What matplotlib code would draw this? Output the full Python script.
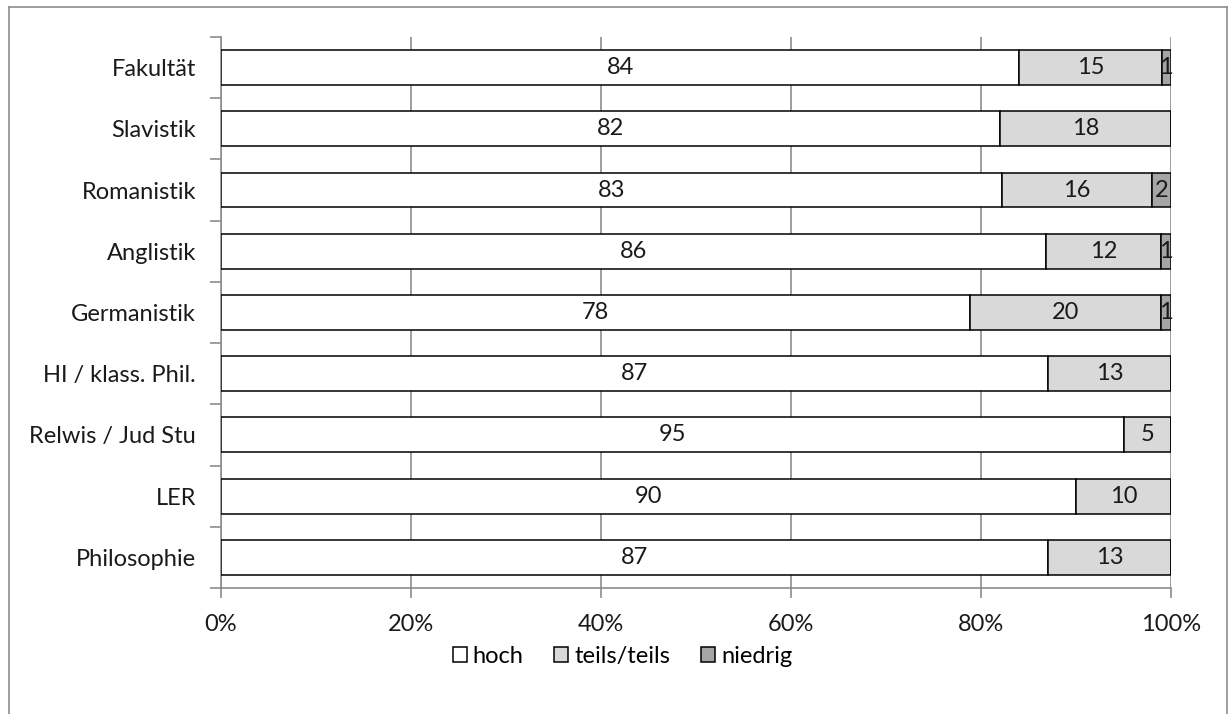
import numpy as np
import matplotlib.pyplot as plt
from matplotlib.lines import Line2D
from matplotlib.ticker import FuncFormatter, FixedLocator

plt.rcParams['font.family'] = ['Lato', 'DejaVu Sans']

fächer = ['Fakultät', 'Slavistik', 'Romanistik', 'Anglistik', 'Germanistik',
          'HI / klass. Phil.', 'Relwis / Jud Stu', 'LER', 'Philosophie']
hoch = [84, 82, 83, 86, 78, 87, 95, 90, 87]
teils = [15, 18, 16, 12, 20, 13, 5, 10, 13]
niedrig = [1, 0, 2, 1, 1, 0, 0, 0, 0]

serien = ['hoch', 'teils/teils', 'niedrig']
farben = ['#ffffff', '#d9d9d9', '#a5a5a5']

werte = np.array([hoch, teils, niedrig], dtype=float)
anteile = werte / werte.sum(axis=0)  # 100 % gestapelt

schrift = 17

fig = plt.figure(figsize=(12.3, 7.14), dpi=100)
ax = fig.add_axes([0.1797, 0.1765, 0.7724, 0.7717])

y = np.arange(len(fächer))
links = np.zeros(len(fächer))
for i, (name, farbe) in enumerate(zip(serien, farben)):
    balken = ax.barh(y, anteile[i], left=links, height=0.57, color=farbe,
                     edgecolor='black', linewidth=1.1, label=name, zorder=3)
    texte = [f'{int(v)}' if v > 0 else '' for v in werte[i]]
    ax.bar_label(balken, labels=texte, label_type='center', fontsize=schrift,
                 color='#1a1a1a')
    links += anteile[i]

ax.set_xlim(0, 1)
ax.set_ylim(len(fächer) - 0.5, -0.5)

ax.xaxis.set_major_locator(FixedLocator(np.linspace(0, 1, 6)))
ax.xaxis.set_major_formatter(FuncFormatter(lambda v, p: f'{v:.0%}'))
ax.set_yticks(y)
ax.set_yticklabels(fächer)
ax.yaxis.set_minor_locator(FixedLocator(np.arange(-0.5, len(fächer), 1)))

ax.tick_params(axis='y', which='major', length=0, pad=18, labelsize=schrift,
               labelcolor='#1a1a1a')
ax.tick_params(axis='y', which='minor', length=8, width=1.2, color='#8c8c8c')
ax.tick_params(axis='x', length=7, width=1.2, color='#8c8c8c', pad=12,
               labelsize=schrift, labelcolor='#1a1a1a')

ax.grid(axis='x', color='#8c8c8c', linewidth=1.2, zorder=0)
for seite in ['top', 'right']:
    ax.spines[seite].set_visible(False)
for seite in ['left', 'bottom']:
    ax.spines[seite].set_color('#8c8c8c')
    ax.spines[seite].set_linewidth(1.2)

fig.legend(loc='center', bbox_to_anchor=(0.506, 0.081), ncol=3, frameon=False,
           fontsize=schrift, handlelength=0.6, handleheight=0.6,
           handletextpad=0.25, columnspacing=1.3)

# Rahmen um das Diagramm
rahmen = dict(color='#8c8c8c', linewidth=1.2, transform=fig.transFigure)
fig.add_artist(Line2D([0.0073, 0.0073], [0.0, 0.990], **rahmen))
fig.add_artist(Line2D([0.0073, 0.9975], [0.990, 0.990], **rahmen))
fig.add_artist(Line2D([0.9975, 0.9975], [0.0, 0.990], **rahmen))

fig.savefig('out.png', dpi=100, facecolor='white')
